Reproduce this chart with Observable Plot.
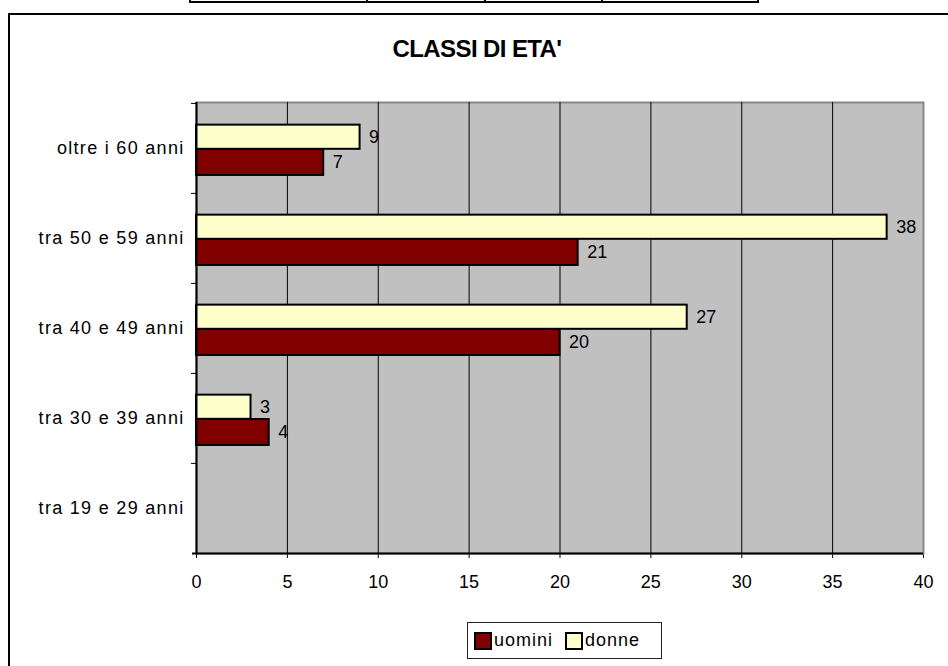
<!DOCTYPE html>
<html>
<head>
<meta charset="utf-8">
<script src="https://cdn.jsdelivr.net/npm/d3@7"></script>
<script src="https://cdn.jsdelivr.net/npm/@observablehq/plot@0.6"></script>
<style>
  html, body { margin: 0; padding: 0; background: #fff; overflow: hidden; }
  #page { position: relative; width: 948px; height: 666px; overflow: hidden; font-family: "Liberation Sans", Arial, sans-serif; }
  #frame { position: absolute; left: 8px; top: 13px; width: 960px; height: 700px; border: 2px solid #000; box-sizing: border-box; }
  #table { position: absolute; left: 189px; top: -20px; width: 570px; height: 23px; border: 2px solid #000; box-sizing: border-box; display: flex; }
  #table div { border-right: 2px solid #000; height: 100%; box-sizing: border-box; }
  #title { position: absolute; left: 0; width: 954px; top: 37px; text-align: center; font-weight: bold; font-size: 24px; line-height: 1; letter-spacing: -0.6px; }
  #chart { position: absolute; left: 0; top: 0; }
  #chart svg { background: transparent !important; }
  #chart [aria-label^="y-axis"] text { letter-spacing: 1.3px; }
  #legend { position: absolute; left: 467px; top: 622px; width: 195px; height: 37px; border: 1px solid #222; box-sizing: border-box; background: #fff; display: flex; align-items: center; padding-left: 6px; font-size: 18px; letter-spacing: 1px; }
  .sw { width: 14px; height: 14px; border: 2px solid #000; display: inline-block; margin-right: 2px; }
</style>
</head>
<body>
<div id="page">
  <div id="table"><div style="width:177px"></div><div style="width:118px"></div><div style="width:117px"></div></div>
  <div id="frame"></div>
  <div id="title">CLASSI DI ETA'</div>
  <div id="chart"></div>
  <div id="legend"></div>
</div>
<script>
const categories = ["oltre i 60 anni", "tra 50 e 59 anni", "tra 40 e 49 anni", "tra 30 e 39 anni", "tra 19 e 29 anni"];
const uomini = [7, 21, 20, 4, null];
const donne = [9, 38, 27, 3, null];
const seriesNames = ["uomini", "donne"];
const seriesColors = ["#800000", "#FFFFCC"];
const xTicks = [0, 5, 10, 15, 20, 25, 30, 35, 40];

const W = 948, H = 666, mt = 102, mb = 113, ml = 196, mr = 25;
const bw = (H - mt - mb) / categories.length;
const pxPerUnit = (W - ml - mr) / 40;

const rowsU = categories.map((c, i) => ({cat: c, value: uomini[i]})).filter(d => d.value != null);
const rowsD = categories.map((c, i) => ({cat: c, value: donne[i]})).filter(d => d.value != null);

const chart = Plot.plot({
  width: W,
  height: H,
  marginTop: mt,
  marginBottom: mb,
  marginLeft: ml,
  marginRight: mr,
  style: {fontFamily: "'Liberation Sans', Arial, sans-serif", fontSize: "18px", color: "#000", background: "transparent"},
  x: {domain: [0, 40], ticks: xTicks, tickSize: 5, tickPadding: 17, label: null, tickFormat: d => String(d)},
  y: {domain: categories, padding: 0, tickSize: 0, tickPadding: 12, label: null},
  marks: [
    Plot.frame({fill: "#C0C0C0", stroke: "#888", strokeWidth: 2}),
    Plot.ruleX(xTicks.filter(t => t > 0 && t < 40), {stroke: "#000", strokeWidth: 1}),
    Plot.barX(rowsD, {x: "value", y: "cat", fill: seriesColors[1], stroke: "#000", strokeWidth: 2, insetTop: 0.24 * bw, insetBottom: 0.49 * bw}),
    Plot.barX(rowsU, {x: "value", y: "cat", fill: seriesColors[0], stroke: "#000", strokeWidth: 2, insetTop: 0.51 * bw, insetBottom: 0.20 * bw}),
    Plot.text(rowsD, {x: "value", y: "cat", text: d => String(d.value), textAnchor: "start", dx: 9, dy: -0.125 * bw, fontSize: 18}),
    Plot.text(rowsU, {x: "value", y: "cat", text: d => String(d.value), textAnchor: "start", dx: 9, dy: 0.155 * bw, fontSize: 18}),
    Plot.ruleX([0], {stroke: "#000", strokeWidth: 2}),
    Plot.ruleY(categories, {y: d => d, x1: -5 / pxPerUnit, x2: 0, dy: -bw / 2, stroke: "#000", strokeWidth: 1}),
    Plot.ruleY([categories[categories.length - 1]], {y: d => d, x1: -4 / pxPerUnit, x2: 40, dy: bw / 2, stroke: "#000", strokeWidth: 2})
  ]
});
document.getElementById("chart").appendChild(chart);

const legend = document.getElementById("legend");
seriesNames.forEach((name, i) => {
  const sw = document.createElement("span");
  sw.className = "sw";
  sw.style.background = seriesColors[i];
  legend.appendChild(sw);
  const t = document.createElement("span");
  t.textContent = name;
  t.style.marginRight = i === 0 ? "12px" : "0";
  legend.appendChild(t);
});
</script>
</body>
</html>
